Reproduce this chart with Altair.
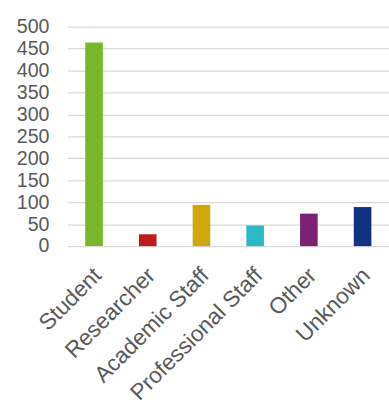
import altair as alt
import pandas as pd

categories = ["Student", "Researcher", "Academic Staff", "Professional Staff", "Other", "Unknown"]
values = [464, 27, 94, 47, 74, 89]
colors = ["#76b82a", "#be1b1b", "#cfa70a", "#2bb9c7", "#7b2073", "#123283"]
y_ticks = [0, 50, 100, 150, 200, 250, 300, 350, 400, 450, 500]

df = pd.DataFrame({"category": categories, "value": values, "color": colors})

chart = alt.Chart(df).mark_bar().encode(
    x=alt.X("category:N", sort=categories,
            scale=alt.Scale(paddingInner=0.672, paddingOuter=0.328),
            axis=alt.Axis(title=None, labelAngle=-45, labelAlign="right", labelBaseline="middle",
                          labelPadding=26, labelOffset=4, ticks=False, domain=False,
                          labelFont="Liberation Sans", labelFontSize=23, labelColor="#595959",
                          labelOverlap=False, labelLimit=300)),
    y=alt.Y("value:Q", scale=alt.Scale(domain=[0, 500], nice=False),
            axis=alt.Axis(title=None, values=y_ticks, ticks=False, domain=False, labelPadding=19,
                          labelFont="Liberation Sans", labelFontSize=20, labelColor="#595959",
                          gridColor="#d9d9d9", gridWidth=1.3)),
    color=alt.Color("color:N", scale=None, legend=None),
).properties(
    width=328, height=224,
    autosize=alt.AutoSizeParams(type="none"),
    padding={"left": 69, "top": 23, "right": 0, "bottom": 160},
).configure_view(stroke=None)

chart.save("out.html", embed_options={"renderer": "svg", "actions": False})
